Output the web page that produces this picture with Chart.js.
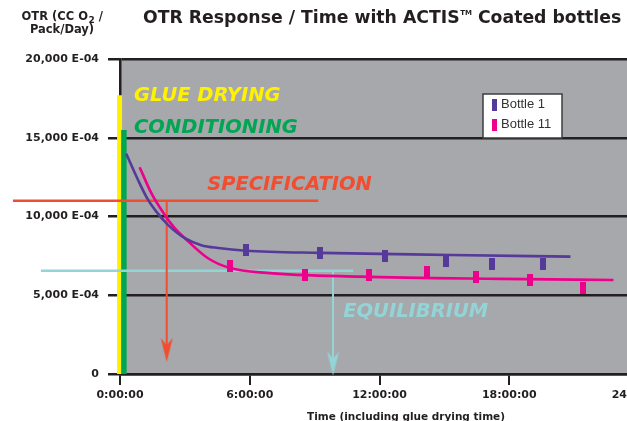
<!DOCTYPE html>
<html><head><meta charset="utf-8">
<script src="https://cdn.jsdelivr.net/npm/chart.js@4.4.0/dist/chart.umd.min.js"></script>
<style>
html,body{margin:0;padding:0;overflow:hidden;background:#fff;width:627px;height:421px}
#wrap{position:absolute;left:0;top:0;width:680px;height:421px}
</style>
</head><body><div id="wrap"><canvas id="c" width="680" height="421"></canvas></div>
<script>
// ---- data (hours, OTR in E-04 units) ----
const xTicks = [0, 6, 12, 18, 24];
const xTickLabels = ['0:00:00', '6:00:00', '12:00:00', '18:00:00', '24:00:00'];
const yTicks = [0, 5000, 10000, 15000, 20000];
const yTickLabels = ['0', '5,000 E-04', '10,000 E-04', '15,000 E-04', '20,000 E-04'];

const seriesNames = ['Bottle 1', 'Bottle 11'];
const bottle1CurveT = [0.29, 0.83, 1.30, 1.68, 2.22, 3.00, 3.76, 4.54, 5.82, 9.26, 15.28, 20.83];
const bottle1CurveV = [13980, 12330, 11050, 10310, 9470, 8620, 8180, 8000, 7830, 7690, 7560, 7450];
const bottle1PointT = [5.83, 9.26, 12.27, 15.09, 17.18, 19.54];
const bottle1PointV = [7880, 7690, 7500, 7180, 6990, 6990];

const bottle11CurveT = [0.91, 1.45, 2.07, 2.53, 3.00, 4.07, 5.09, 6.79, 11.11, 17.60, 22.82];
const bottle11CurveV = [13130, 11480, 10100, 9260, 8620, 7350, 6730, 6420, 6180, 6040, 5970];
const bottle11PointT = [5.09, 8.56, 11.53, 14.21, 16.44, 18.94, 21.39];
const bottle11PointV = [6860, 6290, 6290, 6480, 6160, 5970, 5460];

const glueDryingT = -0.02, glueDryingTop = 17700;
const conditioningT = 0.18, conditioningTop = 15500;
const specValue = 11000, specLineT = [-4.95, 9.17], specArrowT = 2.16, specArrowEnd = 1525;
const equilValue = 6560, equilLineT = [-3.66, 10.79], equilArrowT = 9.85, equilArrowEnd = 667;

const annoTexts = ['GLUE DRYING', 'CONDITIONING', 'SPECIFICATION', 'EQUILIBRIUM'];
const annoT = [0.65, 0.65, 4.03, 10.32];
const annoV = [17660, 15630, 12010, 3940];

// ---- styles ----
const C = {
  bg: '#a7a8ac', grid: '#231f20', text: '#231f20',
  yellow: '#fff200', green: '#00a651', red: '#f04e30', cyan: '#93d4d6',
  purple: '#553a99', pink: '#ec008c'
};
const FAM = '"DejaVu Sans"';

function barImg(color) {
  const c = document.createElement('canvas'); c.width = 6; c.height = 12;
  const g = c.getContext('2d'); g.fillStyle = color; g.fillRect(0, 0, 6, 12); return c;
}
function arrowImg(color) {
  const c = document.createElement('canvas'); c.width = 13; c.height = 24;
  const g = c.getContext('2d'); g.fillStyle = color; g.beginPath();
  g.moveTo(6.5, 24); g.lineTo(0.5, 0); g.lineTo(6.5, 7); g.lineTo(12.5, 0); g.closePath(); g.fill(); return c;
}
const zip = (t, v) => t.map((x, i) => ({ x, y: v[i] }));
const b1Img = barImg(C.purple), b11Img = barImg(C.pink);

const lineDs = (data, color, width, order, extra) => Object.assign({
  type: 'line', data, borderColor: color, backgroundColor: color, borderWidth: width,
  pointRadius: 0, fill: false, order, clip: false, borderCapStyle: 'butt'
}, extra || {});

const datasets = [
  { type: 'scatter', label: seriesNames[0], data: zip(bottle1PointT, bottle1PointV), pointStyle: b1Img, pointRadius: 6, order: 1, legendImg: b1Img },
  { type: 'scatter', label: seriesNames[1], data: zip(bottle11PointT, bottle11PointV), pointStyle: b11Img, pointRadius: 6, order: 1, legendImg: b11Img },
  lineDs(zip(bottle1CurveT, bottle1CurveV), C.purple, 2.6, 2, { cubicInterpolationMode: 'monotone' }),
  lineDs(zip(bottle11CurveT, bottle11CurveV), C.pink, 2.6, 2, { cubicInterpolationMode: 'monotone' }),
  lineDs(specLineT.map(x => ({ x, y: specValue })), C.red, 2.4, 3),
  lineDs([{ x: specArrowT, y: specValue }, { x: specArrowT, y: specArrowEnd }], C.red, 2, 3,
    { pointRadius: [0, 8], pointStyle: arrowImg(C.red) }),
  lineDs(equilLineT.map(x => ({ x, y: equilValue })), C.cyan, 2.4, 3),
  lineDs([{ x: equilArrowT, y: equilValue }, { x: equilArrowT, y: equilArrowEnd }], C.cyan, 2, 3,
    { pointRadius: [0, 8], pointStyle: arrowImg(C.cyan) }),
  lineDs([{ x: conditioningT, y: 0 }, { x: conditioningT, y: conditioningTop }], C.green, 5.5, 4),
  lineDs([{ x: glueDryingT, y: 0 }, { x: glueDryingT, y: glueDryingTop }], C.yellow, 5, 5)
];

const annoColors = [C.yellow, C.green, C.red, C.cyan];

const overlay = {
  id: 'overlay',
  beforeDraw(chart) {
    const { ctx, chartArea: a } = chart;
    ctx.save(); ctx.fillStyle = C.bg;
    ctx.fillRect(a.left, a.top, a.right - a.left, a.bottom - a.top); ctx.restore();
  },
  afterDatasetsDraw(chart) {
    const { ctx, scales: { x, y } } = chart;
    ctx.save();
    ctx.font = 'italic bold 19.5px ' + FAM; ctx.textAlign = 'left'; ctx.textBaseline = 'middle';
    annoTexts.forEach((t, i) => {
      ctx.fillStyle = annoColors[i];
      ctx.fillText(t, x.getPixelForValue(annoT[i]), y.getPixelForValue(annoV[i]));
    });
    ctx.restore();
  },
  afterDraw(chart) {
    const { ctx, chartArea: a } = chart;
    ctx.save();
    ctx.fillStyle = C.text; ctx.textBaseline = 'alphabetic';
    // title
    ctx.font = 'bold 17.3px ' + FAM; ctx.textAlign = 'left';
    let tx = 143; const part1 = 'OTR Response / Time with ACTIS', part2 = ' Coated bottles';
    ctx.fillText(part1, tx, 23); tx += ctx.measureText(part1).width;
    ctx.font = 'bold 7px ' + FAM; ctx.fillText('TM', tx + 0.5, 15); tx += ctx.measureText('TM').width + 0.5;
    ctx.font = 'bold 17.3px ' + FAM; ctx.fillText(part2, tx, 23);
    // y axis title
    const l1a = 'OTR (CC O', l1b = ' /';
    ctx.font = 'bold 11.5px ' + FAM; const w1 = ctx.measureText(l1a).width;
    ctx.font = 'bold 9px ' + FAM; const w2 = ctx.measureText('2').width;
    ctx.font = 'bold 11.5px ' + FAM; const w3 = ctx.measureText(l1b).width;
    let sx = 62 - (w1 + w2 + w3) / 2;
    ctx.fillText(l1a, sx, 20); sx += w1;
    ctx.font = 'bold 9px ' + FAM; ctx.fillText('2', sx + 0.5, 23); sx += w2 + 0.5;
    ctx.font = 'bold 11.5px ' + FAM; ctx.fillText(l1b, sx, 20);
    ctx.textAlign = 'center'; ctx.fillText('Pack/Day)', 62, 33);
    // x axis title
    ctx.font = 'bold 10.5px ' + FAM; ctx.fillText('Time (including glue drying time)', 406, 420);
    // legend box
    const lx = a.left + 363, ly = a.top + 35, lw = 79, lh = 44;
    ctx.fillStyle = '#ffffff'; ctx.fillRect(lx, ly, lw, lh);
    ctx.strokeStyle = '#3d3d3d'; ctx.lineWidth = 1.5; ctx.strokeRect(lx, ly, lw, lh);
    ctx.font = '13px "Liberation Sans"'; ctx.textAlign = 'left'; ctx.textBaseline = 'middle';
    chart.data.datasets.filter(d => d.legendImg).forEach((d, i) => {
      const cy = ly + 10.5 + i * 20;
      ctx.drawImage(d.legendImg, lx + 9, cy - 6, 5, 12);
      ctx.fillStyle = '#333'; ctx.fillText(d.label, lx + 18, cy);
    });
    ctx.restore();
  }
};

new Chart(document.getElementById('c'), {
  data: { datasets },
  options: {
    responsive: false, animation: false, devicePixelRatio: 1,
    layout: { padding: { top: 59, left: 0, right: 41, bottom: 0 } },
    plugins: { legend: { display: false }, tooltip: { enabled: false }, title: { display: false } },
    scales: {
      x: {
        type: 'linear', min: 0, max: 24,
        afterBuildTicks: s => { s.ticks = xTicks.map(v => ({ value: v })); },
        afterFit: s => { s.height = 47; },
        ticks: { callback: v => xTickLabels[xTicks.indexOf(v)], color: C.text, padding: 4, maxRotation: 0, autoSkip: false,
          font: { family: 'DejaVu Sans', size: 11, weight: 'bold' } },
        grid: { drawOnChartArea: false, drawTicks: true, tickLength: 11, color: C.grid, lineWidth: 2 },
        border: { display: true, color: C.grid, width: 2.5 }
      },
      y: {
        type: 'linear', min: 0, max: 20000,
        afterBuildTicks: s => { s.ticks = yTicks.map(v => ({ value: v })); },
        afterFit: s => { s.width = 120; },
        ticks: { callback: v => yTickLabels[yTicks.indexOf(v)], color: C.text, padding: 9,
          font: { family: 'DejaVu Sans', size: 11, weight: 'bold' } },
        grid: { color: C.grid, lineWidth: 2.5, tickLength: 12 },
        border: { display: true, color: C.grid, width: 2.5 }
      }
    }
  },
  plugins: [overlay]
});
</script>
</body></html>
